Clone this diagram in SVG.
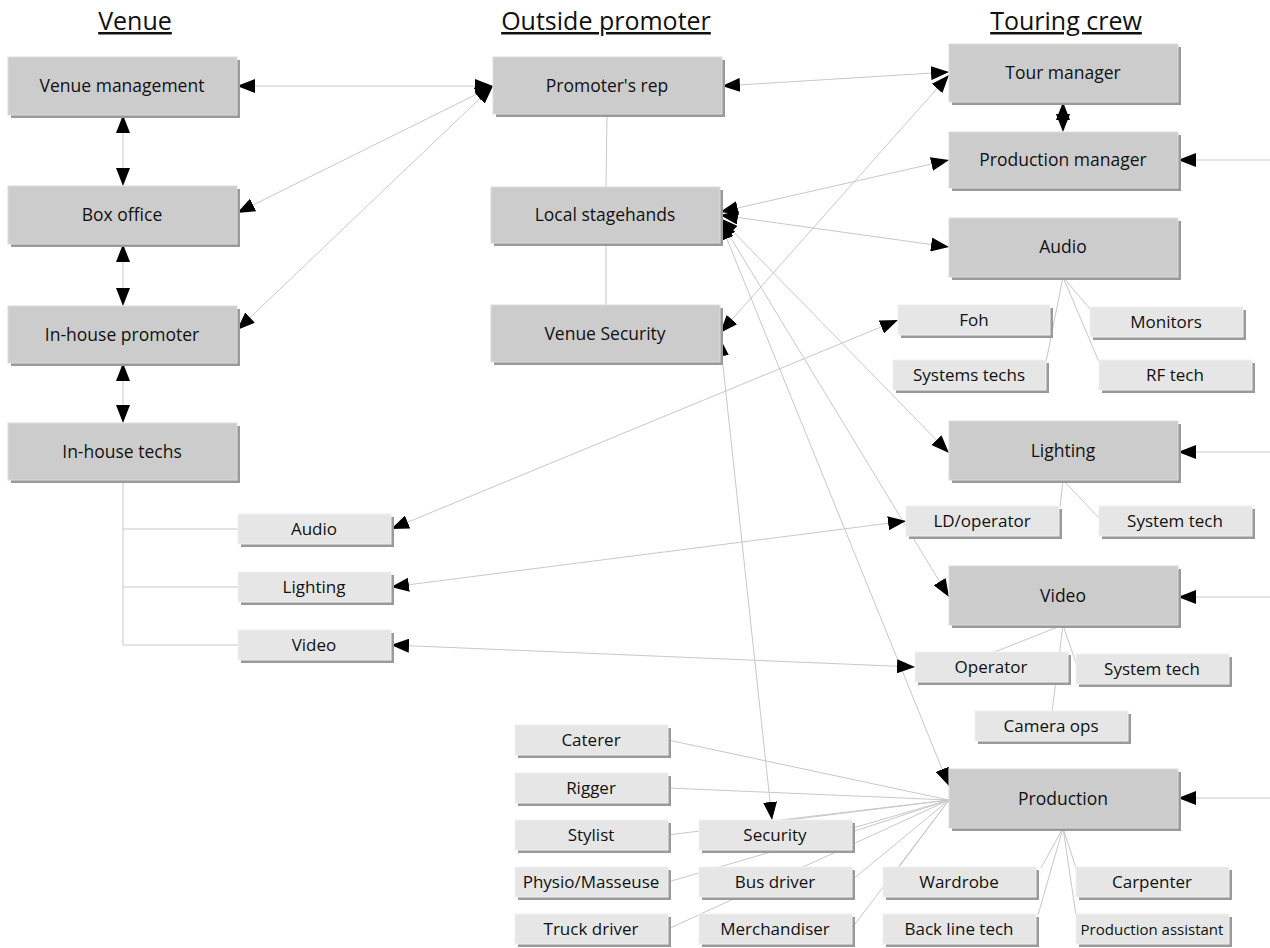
<svg xmlns="http://www.w3.org/2000/svg" width="1270" height="948" viewBox="0 0 1270 948">
<style>
.bg{fill:#ffffff}
.sh{fill:#9a9a9a}
.big{fill:#cccccc;stroke:#dcdcdc;stroke-width:1}
.sm{fill:#e6e6e6;stroke:#f0f0f0;stroke-width:1}
text{font-family:"Open Sans","Noto Sans","Liberation Sans",sans-serif;fill:#111111;text-anchor:middle}
.tb{font-size:17.5px}
.ts{font-size:17px}
.title{font-size:25px;text-decoration:underline}
.ln{stroke:#c8c8c8;stroke-width:1;fill:none}
.ar{stroke:#c8c8c8;stroke-width:1;fill:none;marker-start:url(#ah);marker-end:url(#ah)}
.ae{stroke:#c8c8c8;stroke-width:1;fill:none;marker-end:url(#ah)}
</style>
<defs>
<marker id="ah" viewBox="0 0 18 14" refX="18" refY="7" markerWidth="18" markerHeight="14" markerUnits="userSpaceOnUse" orient="auto-start-reverse">
<path d="M0,0 L18,7 L0,14 Z" fill="#000"/>
</marker>
</defs>
<rect class="bg" x="0" y="0" width="1270" height="948"/>

<g id="titles">
<text class="title" x="135" y="30">Venue</text>
<text class="title" x="606" y="30">Outside promoter</text>
<text class="title" x="1066" y="30">Touring crew</text>
</g>

<g id="connectors">
<path class="ln" d="M607,114 L606,187 M606,242 L606,305"/>
<path class="ln" d="M123,480 L123,645 M123,529 L238,529 M123,587 L238,587 M123,645 L238,645"/>
<path class="ln" d="M1063,277 L1046,362 M1063,277 L1090,309 M1063,277 L1099,362"/>
<path class="ln" d="M1063,480 L1060,507 M1063,480 L1099,518"/>
<path class="ln" d="M1063,625 L992,653 M1063,625 L1052,712 M1063,625 L1077,666"/>
<path class="ln" d="M1063,828 L1041,868 M1063,828 L1038,915 M1063,828 L1076,868 M1063,828 L1076,915"/>
<path class="ln" d="M949,800 L668,740 M949,800 L668,788 M949,800 L668,835 M949,800 L780,820 M949,800 L852,832 M949,800 L668,882 M949,800 L852,880 M949,800 L668,929 M949,800 L852,928 M949,800 L899,867"/>
<line class="ar" x1="237" y1="86" x2="493" y2="86"/>
<line class="ar" x1="237" y1="213" x2="493" y2="86"/>
<line class="ar" x1="237" y1="330" x2="493" y2="86"/>
<line class="ar" x1="123" y1="115" x2="123" y2="186"/>
<line class="ar" x1="123" y1="244" x2="123" y2="306"/>
<line class="ar" x1="123" y1="363" x2="123" y2="423"/>
<line class="ar" x1="722" y1="86" x2="949" y2="72"/>
<line class="ar" x1="720" y1="333" x2="949" y2="75"/>
<line class="ar" x1="1063" y1="102" x2="1063" y2="132"/>
<line class="ar" x1="720" y1="212" x2="949" y2="160"/>
<line class="ar" x1="720" y1="215" x2="949" y2="247"/>
<line class="ar" x1="720" y1="218" x2="949" y2="453"/>
<line class="ar" x1="720" y1="220" x2="949" y2="597"/>
<line class="ar" x1="720" y1="222" x2="949" y2="786"/>
<line class="ar" x1="720" y1="338" x2="772" y2="820"/>
<line class="ar" x1="898" y1="320" x2="391" y2="529"/>
<line class="ar" x1="906" y1="521" x2="391" y2="587"/>
<line class="ar" x1="915" y1="667" x2="391" y2="645"/>
<line class="ae" x1="1270" y1="160" x2="1178" y2="160"/>
<line class="ae" x1="1270" y1="452" x2="1178" y2="452"/>
<line class="ae" x1="1270" y1="597" x2="1178" y2="597"/>
<line class="ae" x1="1270" y1="798" x2="1178" y2="798"/>
</g>

<g id="venue-management"><rect class="sh" x="11" y="60" width="229" height="58"/><rect class="big" x="8" y="57" width="229" height="58"/><text class="tb" x="122" y="92">Venue management</text></g>
<g id="box-office"><rect class="sh" x="11" y="189" width="229" height="58"/><rect class="big" x="8" y="186" width="229" height="58"/><text class="tb" x="122" y="221">Box office</text></g>
<g id="in-house-promoter"><rect class="sh" x="11" y="309" width="229" height="57"/><rect class="big" x="8" y="306" width="229" height="57"/><text class="tb" x="122" y="341">In-house promoter</text></g>
<g id="in-house-techs"><rect class="sh" x="11" y="426" width="229" height="57"/><rect class="big" x="8" y="423" width="229" height="57"/><text class="tb" x="122" y="458">In-house techs</text></g>
<g id="venue-audio"><rect class="sh" x="241" y="517" width="153" height="30"/><rect class="sm" x="238" y="514" width="153" height="30"/><text class="ts" x="314" y="535">Audio</text></g>
<g id="venue-lighting"><rect class="sh" x="241" y="575" width="153" height="30"/><rect class="sm" x="238" y="572" width="153" height="30"/><text class="ts" x="314" y="593">Lighting</text></g>
<g id="venue-video"><rect class="sh" x="241" y="633" width="153" height="30"/><rect class="sm" x="238" y="630" width="153" height="30"/><text class="ts" x="314" y="651">Video</text></g>

<g id="promoters-rep"><rect class="sh" x="496" y="60" width="229" height="57"/><rect class="big" x="493" y="57" width="229" height="57"/><text class="tb" x="607" y="92">Promoter's rep</text></g>
<g id="local-stagehands"><rect class="sh" x="494" y="190" width="229" height="56"/><rect class="big" x="491" y="187" width="229" height="56"/><text class="tb" x="605" y="221">Local stagehands</text></g>
<g id="venue-security"><rect class="sh" x="494" y="308" width="229" height="57"/><rect class="big" x="491" y="305" width="229" height="57"/><text class="tb" x="605" y="340">Venue Security</text></g>

<g id="tour-manager"><rect class="sh" x="952" y="47" width="229" height="58"/><rect class="big" x="949" y="44" width="229" height="58"/><text class="tb" x="1063" y="79">Tour manager</text></g>
<g id="production-manager"><rect class="sh" x="952" y="135" width="229" height="56"/><rect class="big" x="949" y="132" width="229" height="56"/><text class="tb" x="1063" y="166">Production manager</text></g>
<g id="audio"><rect class="sh" x="952" y="221" width="229" height="59"/><rect class="big" x="949" y="218" width="229" height="59"/><text class="tb" x="1063" y="253">Audio</text></g>
<g id="foh"><rect class="sh" x="901" y="308" width="152" height="30"/><rect class="sm" x="898" y="305" width="152" height="30"/><text class="ts" x="974" y="326">Foh</text></g>
<g id="monitors"><rect class="sh" x="1093" y="310" width="153" height="30"/><rect class="sm" x="1090" y="307" width="153" height="30"/><text class="ts" x="1166" y="328">Monitors</text></g>
<g id="systems-techs"><rect class="sh" x="896" y="363" width="153" height="30"/><rect class="sm" x="893" y="360" width="153" height="30"/><text class="ts" x="969" y="381">Systems techs</text></g>
<g id="rf-tech"><rect class="sh" x="1102" y="363" width="153" height="30"/><rect class="sm" x="1099" y="360" width="153" height="30"/><text class="ts" x="1175" y="381">RF tech</text></g>
<g id="lighting"><rect class="sh" x="952" y="424" width="229" height="59"/><rect class="big" x="949" y="421" width="229" height="59"/><text class="tb" x="1063" y="457">Lighting</text></g>
<g id="ld-operator"><rect class="sh" x="909" y="509" width="153" height="30"/><rect class="sm" x="906" y="506" width="153" height="30"/><text class="ts" x="982" y="527">LD/operator</text></g>
<g id="lighting-system-tech"><rect class="sh" x="1102" y="509" width="153" height="30"/><rect class="sm" x="1099" y="506" width="153" height="30"/><text class="ts" x="1175" y="527">System tech</text></g>
<g id="video"><rect class="sh" x="952" y="569" width="229" height="59"/><rect class="big" x="949" y="566" width="229" height="59"/><text class="tb" x="1063" y="602">Video</text></g>
<g id="operator"><rect class="sh" x="918" y="655" width="153" height="30"/><rect class="sm" x="915" y="652" width="153" height="30"/><text class="ts" x="991" y="673">Operator</text></g>
<g id="video-system-tech"><rect class="sh" x="1079" y="657" width="153" height="30"/><rect class="sm" x="1076" y="654" width="153" height="30"/><text class="ts" x="1152" y="675">System tech</text></g>
<g id="camera-ops"><rect class="sh" x="978" y="714" width="153" height="30"/><rect class="sm" x="975" y="711" width="153" height="30"/><text class="ts" x="1051" y="732">Camera ops</text></g>
<g id="production"><rect class="sh" x="952" y="772" width="229" height="59"/><rect class="big" x="949" y="769" width="229" height="59"/><text class="tb" x="1063" y="805">Production</text></g>

<g id="caterer"><rect class="sh" x="518" y="728" width="153" height="30"/><rect class="sm" x="515" y="725" width="153" height="30"/><text class="ts" x="591" y="746">Caterer</text></g>
<g id="rigger"><rect class="sh" x="518" y="776" width="153" height="30"/><rect class="sm" x="515" y="773" width="153" height="30"/><text class="ts" x="591" y="794">Rigger</text></g>
<g id="stylist"><rect class="sh" x="518" y="823" width="153" height="30"/><rect class="sm" x="515" y="820" width="153" height="30"/><text class="ts" x="591" y="841">Stylist</text></g>
<g id="physio"><rect class="sh" x="518" y="870" width="153" height="30"/><rect class="sm" x="515" y="867" width="153" height="30"/><text class="ts" x="591" y="888">Physio/Masseuse</text></g>
<g id="truck-driver"><rect class="sh" x="518" y="917" width="153" height="30"/><rect class="sm" x="515" y="914" width="153" height="30"/><text class="ts" x="591" y="935">Truck driver</text></g>
<g id="security"><rect class="sh" x="702" y="823" width="153" height="30"/><rect class="sm" x="699" y="820" width="153" height="30"/><text class="ts" x="775" y="841">Security</text></g>
<g id="bus-driver"><rect class="sh" x="702" y="870" width="153" height="30"/><rect class="sm" x="699" y="867" width="153" height="30"/><text class="ts" x="775" y="888">Bus driver</text></g>
<g id="merchandiser"><rect class="sh" x="702" y="917" width="153" height="30"/><rect class="sm" x="699" y="914" width="153" height="30"/><text class="ts" x="775" y="935">Merchandiser</text></g>
<g id="wardrobe"><rect class="sh" x="886" y="870" width="153" height="30"/><rect class="sm" x="883" y="867" width="153" height="30"/><text class="ts" x="959" y="888">Wardrobe</text></g>
<g id="back-line-tech"><rect class="sh" x="886" y="917" width="153" height="30"/><rect class="sm" x="883" y="914" width="153" height="30"/><text class="ts" x="959" y="935">Back line tech</text></g>
<g id="carpenter"><rect class="sh" x="1079" y="870" width="153" height="30"/><rect class="sm" x="1076" y="867" width="153" height="30"/><text class="ts" x="1152" y="888">Carpenter</text></g>
<g id="production-assistant"><rect class="sh" x="1079" y="917" width="153" height="30"/><rect class="sm" x="1076" y="914" width="153" height="30"/><text class="ts" x="1152" y="935" style="font-size:15px">Production assistant</text></g>
</svg>
